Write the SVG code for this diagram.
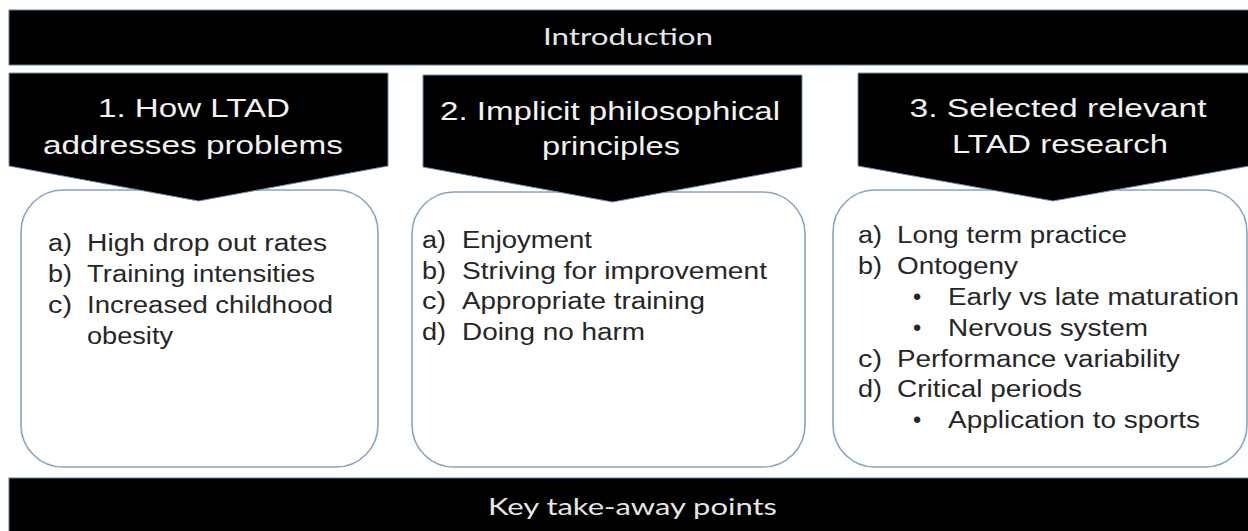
<svg xmlns="http://www.w3.org/2000/svg" width="1248" height="531" viewBox="0 0 1248 531">
  <style>
    .bar { fill: #000; stroke: #5f7f9f; stroke-width: 1; }
    .chev { fill: #000; stroke: #6f8db0; stroke-width: 1; }
    .box { fill: #fff; stroke: #86a4c4; stroke-width: 1.6; }
    .bartxt { font-family: Lato, "Open Sans", sans-serif; font-size: 23px; fill: #e6e6e6; text-anchor: middle; }
    .chevtxt { font-family: "Liberation Sans", Arial, sans-serif; font-size: 26.5px; fill: #f2f2f2; text-anchor: middle; }
    .item { font-family: "Liberation Sans", Arial, sans-serif; font-size: 23.5px; fill: #262626; }
  </style>
  <rect width="1248" height="531" fill="#fff"/>

  <g id="introduction">
    <rect class="bar" x="9" y="10" width="1250" height="55"/>
    <text class="bartxt" x="628" y="45" textLength="170" lengthAdjust="spacingAndGlyphs">Introduction</text>
  </g>

  <g id="box1">
    <rect class="box" x="21" y="190" width="357" height="277" rx="42" ry="42"/>
    <text class="item" x="48" y="251" textLength="24" lengthAdjust="spacingAndGlyphs">a)</text>
    <text class="item" x="87" y="251" textLength="240" lengthAdjust="spacingAndGlyphs">High drop out rates</text>
    <text class="item" x="48" y="282" textLength="24" lengthAdjust="spacingAndGlyphs">b)</text>
    <text class="item" x="87" y="282" textLength="228" lengthAdjust="spacingAndGlyphs">Training intensities</text>
    <text class="item" x="48" y="313" textLength="24" lengthAdjust="spacingAndGlyphs">c)</text>
    <text class="item" x="87" y="313" textLength="246" lengthAdjust="spacingAndGlyphs">Increased childhood</text>
    <text class="item" x="87" y="344" textLength="86" lengthAdjust="spacingAndGlyphs">obesity</text>
  </g>

  <g id="box2">
    <rect class="box" x="412" y="192" width="393" height="275" rx="42" ry="42"/>
    <text class="item" x="422" y="248" textLength="24" lengthAdjust="spacingAndGlyphs">a)</text>
    <text class="item" x="462" y="248" textLength="130" lengthAdjust="spacingAndGlyphs">Enjoyment</text>
    <text class="item" x="422" y="278.5" textLength="24" lengthAdjust="spacingAndGlyphs">b)</text>
    <text class="item" x="462" y="278.5" textLength="305" lengthAdjust="spacingAndGlyphs">Striving for improvement</text>
    <text class="item" x="422" y="309" textLength="24" lengthAdjust="spacingAndGlyphs">c)</text>
    <text class="item" x="462" y="309" textLength="243" lengthAdjust="spacingAndGlyphs">Appropriate training</text>
    <text class="item" x="422" y="339.5" textLength="24" lengthAdjust="spacingAndGlyphs">d)</text>
    <text class="item" x="462" y="339.5" textLength="183" lengthAdjust="spacingAndGlyphs">Doing no harm</text>
  </g>

  <g id="box3">
    <rect class="box" x="833" y="190" width="414" height="277" rx="42" ry="42"/>
    <text class="item" x="858" y="243" textLength="24" lengthAdjust="spacingAndGlyphs">a)</text>
    <text class="item" x="897" y="243" textLength="230" lengthAdjust="spacingAndGlyphs">Long term practice</text>
    <text class="item" x="858" y="274" textLength="24" lengthAdjust="spacingAndGlyphs">b)</text>
    <text class="item" x="897" y="274" textLength="121" lengthAdjust="spacingAndGlyphs">Ontogeny</text>
    <text class="item" x="913" y="305">•</text>
    <text class="item" x="948" y="305" textLength="291" lengthAdjust="spacingAndGlyphs">Early vs late maturation</text>
    <text class="item" x="913" y="336">•</text>
    <text class="item" x="948" y="336" textLength="200" lengthAdjust="spacingAndGlyphs">Nervous system</text>
    <text class="item" x="858" y="367" textLength="24" lengthAdjust="spacingAndGlyphs">c)</text>
    <text class="item" x="897" y="367" textLength="283" lengthAdjust="spacingAndGlyphs">Performance variability</text>
    <text class="item" x="858" y="397" textLength="24" lengthAdjust="spacingAndGlyphs">d)</text>
    <text class="item" x="897" y="397" textLength="185" lengthAdjust="spacingAndGlyphs">Critical periods</text>
    <text class="item" x="913" y="428">•</text>
    <text class="item" x="948" y="428" textLength="252" lengthAdjust="spacingAndGlyphs">Application to sports</text>
  </g>

  <g id="chevron1">
    <polygon class="chev" points="9,73 388,73 388,166 198.5,201 9,166"/>
    <text class="chevtxt" x="194" y="117" textLength="192" lengthAdjust="spacingAndGlyphs">1. How LTAD</text>
    <text class="chevtxt" x="193" y="154" textLength="300" lengthAdjust="spacingAndGlyphs">addresses problems</text>
  </g>

  <g id="chevron2">
    <polygon class="chev" points="423,75 802,75 802,167 612.5,202 423,167"/>
    <text class="chevtxt" x="610" y="120" textLength="340" lengthAdjust="spacingAndGlyphs">2. Implicit philosophical</text>
    <text class="chevtxt" x="611" y="155" textLength="138" lengthAdjust="spacingAndGlyphs">principles</text>
  </g>

  <g id="chevron3">
    <polygon class="chev" points="858,73 1249,73 1249,166 1053,201 858,166"/>
    <text class="chevtxt" x="1058" y="117" textLength="297" lengthAdjust="spacingAndGlyphs">3. Selected relevant</text>
    <text class="chevtxt" x="1060" y="153" textLength="216" lengthAdjust="spacingAndGlyphs">LTAD research</text>
  </g>

  <g id="takeaway">
    <rect class="bar" x="9" y="478" width="1250" height="60"/>
    <text class="bartxt" x="632.5" y="515" textLength="289" lengthAdjust="spacingAndGlyphs">Key take-away points</text>
  </g>

  <g id="connectors"></g>
</svg>
